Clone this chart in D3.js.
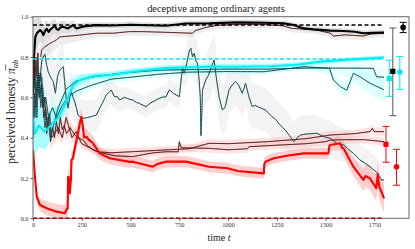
<!DOCTYPE html>
<html>
<head>
<meta charset="utf-8">
<script src="https://cdn.jsdelivr.net/npm/d3@7"></script>
<style>
  body { margin: 0; background: #fff; }
  text { font-family: "Liberation Serif", "DejaVu Serif", serif; }
</style>
</head>
<body>
<svg id="chart" width="415" height="249"></svg>
<script>
// --- data: [time, perceived honesty] ---
const xTicks = [0, 250, 500, 750, 1000, 1250, 1500, 1750];
const yTicks = [0, 0.2, 0.4, 0.6, 0.8, 1.0];

const blackMean = [[0,0.62],[5,0.8],[12,0.9],[20,0.918],[36,0.934],[45,0.925],[53,0.909],[62,0.93],[70,0.94],[80,0.925],[87,0.934],[100,0.945],[112,0.955],[120,0.94],[129,0.934],[142,0.948],[155,0.95],[168,0.945],[180,0.942],[195,0.952],[206,0.958],[215,0.948],[223,0.942],[260,0.952],[325,0.958],[409,0.956],[500,0.96],[682,0.955],[784,0.966],[903,0.967],[1048,0.972],[1184,0.97],[1286,0.967],[1337,0.959],[1388,0.942],[1439,0.937],[1524,0.931],[1592,0.929],[1650,0.925],[1694,0.918],[1740,0.92],[1800,0.921]];
const blackSpread = [[0,0.2],[20,0.08],[50,0.045],[150,0.03],[300,0.015],[1800,0.012]];
const blackThin = [[40,0.8],[44,0.835],[60,0.85],[87,0.868],[104,0.876],[120,0.885],[138,0.9],[200,0.905],[250,0.91],[325,0.918],[409,0.918],[495,0.926],[563,0.926],[700,0.922],[818,0.918],[830,0.93],[880,0.945],[903,0.95],[950,0.958],[1050,0.962],[1184,0.962],[1280,0.955],[1327,0.942],[1450,0.935],[1524,0.918],[1541,0.904],[1600,0.91],[1694,0.904],[1728,0.914],[1800,0.918]];

const cyanMean = [[0,0.5],[10,0.42],[30,0.46],[60,0.43],[100,0.47],[130,0.5],[155,0.546],[180,0.6],[206,0.661],[240,0.686],[306,0.705],[410,0.712],[512,0.728],[682,0.745],[903,0.752],[1048,0.752],[1211,0.754],[1354,0.762],[1473,0.777],[1592,0.785],[1700,0.792],[1800,0.798]];
const cyanSpread = [[0,0.12],[100,0.07],[200,0.03],[300,0.016],[1800,0.01]];
const cyanThinA = [[0,0.55],[8,0.7],[15,0.62],[25,0.75],[35,0.6],[45,0.7],[55,0.55],[65,0.6],[80,0.5],[100,0.55],[120,0.5],[150,0.56],[180,0.6],[220,0.63],[300,0.66],[400,0.69],[500,0.7],[650,0.715],[800,0.725],[1000,0.728],[1184,0.727],[1250,0.735],[1388,0.752],[1520,0.744],[1541,0.686],[1575,0.653],[1609,0.636],[1643,0.719],[1677,0.702],[1728,0.67],[1800,0.637]];
const cyanThinASpread = [[0,0.08],[300,0.02],[1500,0.015],[1600,0.04],[1800,0.06]];
const cyanThinB = [[0,0.45],[10,0.6],[20,0.5],[30,0.72],[40,0.55],[50,0.65],[60,0.45],[75,0.5],[90,0.4],[110,0.48],[130,0.55],[170,0.64],[220,0.68],[300,0.7],[450,0.72],[650,0.735],[850,0.738],[1000,0.74],[1200,0.74],[1400,0.745],[1600,0.745],[1745,0.744],[1762,0.702],[1800,0.7]];

const tealNoisy = [[0,0.4],[5,0.55],[10,0.5],[15,0.65],[20,0.6],[28,0.72],[35,0.68],[45,0.78],[52,0.8],[61,0.813],[70,0.76],[78,0.727],[90,0.7],[104,0.678],[115,0.62],[125,0.7],[135,0.73],[146,0.744],[155,0.752],[162,0.68],[170,0.6],[180,0.546],[188,0.6],[197,0.628],[205,0.6],[214,0.578],[222,0.55],[231,0.512],[245,0.5],[260,0.496],[280,0.5],[300,0.505],[325,0.512],[342,0.546],[355,0.57],[376,0.612],[390,0.625],[401,0.636],[418,0.603],[434,0.603],[444,0.587],[470,0.6],[495,0.59],[512,0.587],[530,0.575],[546,0.57],[565,0.56],[580,0.554],[600,0.57],[631,0.587],[660,0.6],[682,0.603],[699,0.637],[720,0.62],[750,0.603],[767,0.752],[776,0.719],[792,0.785],[801,0.83],[810,0.843],[818,0.8],[827,0.818],[835,0.78],[843,0.77],[852,0.686],[858,0.6],[861,0.41],[865,0.5],[869,0.637],[886,0.686],[900,0.71],[912,0.744],[929,0.785],[937,0.719],[954,0.603],[971,0.537],[985,0.55],[1005,0.637],[1020,0.66],[1039,0.678],[1055,0.66],[1073,0.62],[1090,0.67],[1107,0.603],[1124,0.554],[1140,0.56],[1160,0.55],[1192,0.537],[1210,0.52],[1226,0.504],[1245,0.49],[1260,0.471],[1280,0.45],[1294,0.438],[1315,0.41],[1337,0.38],[1355,0.4],[1371,0.413],[1400,0.418],[1430,0.42],[1456,0.422],[1490,0.405],[1524,0.397],[1558,0.372],[1592,0.364],[1620,0.34],[1643,0.322],[1677,0.289],[1700,0.275],[1728,0.256],[1760,0.23],[1787,0.19],[1800,0.19]];
const tealSpread = [[0,0.16],[200,0.1],[500,0.05],[750,0.06],[800,0.1],[900,0.13],[1300,0.1],[1800,0.07]];

const redMean = [[0,0.34],[3,0.3],[10,0.206],[19,0.107],[36,0.066],[70,0.05],[121,0.033],[163,0.025],[170,0.04],[178,0.05],[180,0.206],[186,0.2],[189,0.125],[195,0.2],[197,0.289],[205,0.3],[215,0.35],[230,0.42],[240,0.47],[248,0.504],[255,0.46],[262,0.4],[274,0.405],[285,0.39],[308,0.372],[342,0.322],[393,0.298],[495,0.28],[512,0.281],[614,0.256],[640,0.27],[682,0.281],[784,0.281],[903,0.256],[997,0.248],[1050,0.235],[1184,0.223],[1186,0.27],[1192,0.281],[1235,0.298],[1300,0.31],[1388,0.322],[1515,0.322],[1520,0.36],[1524,0.364],[1575,0.372],[1585,0.35],[1592,0.347],[1643,0.256],[1694,0.19],[1705,0.21],[1728,0.198],[1760,0.149],[1768,0.22],[1775,0.16],[1800,0.099]];
const redSpread = [[0,0.03],[150,0.04],[250,0.045],[350,0.03],[1500,0.025],[1600,0.04],[1800,0.07]];
const redThinA = [[0,0.6],[5,0.75],[10,0.65],[15,0.8],[20,0.7],[25,0.82],[30,0.65],[40,0.72],[50,0.55],[60,0.6],[70,0.42],[80,0.5],[90,0.38],[100,0.45],[110,0.4],[120,0.48],[130,0.42],[140,0.5],[150,0.44],[160,0.46],[172,0.42],[190,0.45],[210,0.42],[230,0.4],[257,0.388],[280,0.36],[308,0.339],[350,0.325],[420,0.31],[512,0.306],[560,0.315],[620,0.325],[682,0.33],[745,0.33],[750,0.38],[760,0.35],[903,0.347],[1000,0.34],[1100,0.345],[1107,0.355],[1200,0.36],[1300,0.365],[1400,0.37],[1500,0.38],[1524,0.388],[1600,0.39],[1700,0.39],[1800,0.38]];
const redThinB = [[0,0.5],[8,0.62],[16,0.55],[24,0.7],[32,0.6],[45,0.66],[55,0.5],[65,0.55],[75,0.45],[85,0.52],[95,0.4],[110,0.42],[130,0.45],[150,0.4],[170,0.5],[185,0.45],[200,0.4],[220,0.43],[250,0.37],[290,0.35],[330,0.33],[400,0.325],[500,0.33],[600,0.335],[700,0.34],[800,0.345],[903,0.372],[1000,0.37],[1200,0.38],[1400,0.395],[1524,0.413],[1650,0.42],[1728,0.43],[1740,0.446],[1750,0.43],[1800,0.43]];
const redThinSpread = [[0,0.06],[300,0.02],[1800,0.02]];

// reference levels (dashed), end time
const refLevels = [["#000", 0.959], ["#00e8f0", 0.79], ["#b00000", 0.0]];
const refEnd = 1800;

// summary markers at the right: [time, value, low, high, colour, bar colour, shape]
const summaryT = [1810, 1827, 1845, 1864, 1881, 1898];
const summaryV = [0.367, 0.693, 0.729, 0.256, 0.726, 0.947];
const summaryLo = [0.278, 0.605, 0.509, 0.164, 0.64, 0.921];
const summaryHi = [0.456, 0.784, 0.944, 0.342, 0.802, 0.972];
const summaryCol = ["#ff0000", "#00e8f0", "#000", "#ff0000", "#00e8f0", "#000"];
const summaryBar = ["#ff0000", "#00e8f0", "#555", "#ff0000", "#00e8f0", "#000"];
const summaryShape = ["square", "square", "square", "circle", "circle", "circle"];

// --- layout ---
const W = 415, H = 249;
const m = { l: 33, r: 6, t: 16.7, b: 30.7 };
const x = d3.scaleLinear().domain([0, 1928]).range([m.l, W - m.r]);
const y = d3.scaleLinear().domain([0, 1]).range([H - m.b, m.t]);

const svg = d3.select("#chart");
svg.append("defs").append("clipPath").attr("id", "plot")
  .append("rect").attr("x", m.l).attr("y", m.t)
  .attr("width", W - m.l - m.r).attr("height", H - m.t - m.b);

const plot = svg.append("g").attr("clip-path", "url(#plot)");

const line = d3.line().x(d => x(d[0])).y(d => y(d[1]));

function band(series, spread, fill, op) {
  const hw = d3.scaleLinear().domain(spread.map(d => d[0])).range(spread.map(d => d[1])).clamp(true);
  const area = d3.area().x(d => x(d[0]))
    .y0(d => y(Math.max(0, d[1] - hw(d[0]))))
    .y1(d => y(Math.min(1, d[1] + hw(d[0]))));
  plot.append("path").attr("d", area(series)).attr("fill", fill).attr("fill-opacity", op);
}

function thin(series, col) {
  plot.append("path").attr("d", line(series)).attr("fill", "none")
    .attr("stroke", "#151515").attr("stroke-width", 0.9);
  plot.append("path").attr("d", line(series)).attr("fill", "none")
    .attr("stroke", col).attr("stroke-width", 0.8).attr("stroke-dasharray", "0.8,1.6");
}

function thick(series, col, w) {
  plot.append("path").attr("d", line(series)).attr("fill", "none")
    .attr("stroke", col).attr("stroke-width", w).attr("stroke-linejoin", "round");
}

// bands
band(tealNoisy, tealSpread, "#e8e8e8", 0.5);
band(blackMean, blackSpread, "#c8c8c8", 0.6);
band(blackThin, redThinSpread, "#dcdcdc", 0.5);
band(redThinA, redThinSpread, "#ffc0c0", 0.45);
band(redThinB, redThinSpread, "#ffc0c0", 0.45);
band(cyanThinA, cyanThinASpread, "#b8ffff", 0.45);
band(cyanThinB, cyanThinASpread, "#b8ffff", 0.3);
band(redMean, redSpread, "#ffa8a8", 0.55);
band(cyanMean, cyanSpread, "#70ffff", 0.6);

// thin runs
thin(redThinA, "#ff2020");
thin(redThinB, "#ff2020");
thin(cyanThinA, "#00f0ff");
thin(cyanThinB, "#00f0ff");
thin(blackThin, "#ff2020");
thin(tealNoisy, "#00d8e0");

// means
thick(redMean, "#ff0000", 2.1);
thick(cyanMean, "#00eef5", 2.1);
thick(blackMean, "#000", 2.1);

// frame
svg.append("rect").attr("x", m.l).attr("y", m.t)
  .attr("width", W - m.l - m.r).attr("height", H - m.t - m.b)
  .attr("fill", "none").attr("stroke", "#666").attr("stroke-width", 1);

// reference dashes (drawn over the frame so the zero level shows)
refLevels.forEach(([c, v]) => {
  svg.append("line").attr("x1", x(0)).attr("x2", x(refEnd))
    .attr("y1", y(v)).attr("y2", y(v))
    .attr("stroke", c).attr("stroke-width", 1.4).attr("stroke-dasharray", "4,2.5");
});

// summary error bars
const sm = svg.append("g");
summaryT.forEach((t, i) => {
  const cx = x(t), c = summaryBar[i];
  sm.append("line").attr("x1", cx).attr("x2", cx).attr("y1", y(summaryLo[i])).attr("y2", y(summaryHi[i]))
    .attr("stroke", c).attr("stroke-width", 1);
  [summaryLo[i], summaryHi[i]].forEach(v => {
    sm.append("line").attr("x1", cx - 3.5).attr("x2", cx + 3.5).attr("y1", y(v)).attr("y2", y(v))
      .attr("stroke", c).attr("stroke-width", 1);
  });
  if (summaryShape[i] === "square") {
    sm.append("rect").attr("x", cx - 2.6).attr("y", y(summaryV[i]) - 2.6)
      .attr("width", 5.2).attr("height", 5.2).attr("fill", summaryCol[i]);
  } else {
    sm.append("circle").attr("cx", cx).attr("cy", y(summaryV[i])).attr("r", 2.8).attr("fill", summaryCol[i]);
  }
});

// axes
const gx = svg.append("g").attr("transform", `translate(0,${H - m.b})`)
  .call(d3.axisBottom(x).tickValues(xTicks).tickSize(2.5).tickPadding(2).tickFormat(d3.format("d")));
const gy = svg.append("g").attr("transform", `translate(${m.l},0)`)
  .call(d3.axisLeft(y).tickValues(yTicks).tickSize(2.5).tickPadding(2).tickFormat(d3.format(".1f")));
[gx, gy].forEach(g => {
  g.select(".domain").remove();
  g.selectAll(".tick line").attr("stroke", "#555");
  g.selectAll(".tick text").attr("fill", "#333")
    .style("font-family", '"Liberation Serif", serif').style("font-size", "6.3px");
});

// titles
svg.append("text").attr("x", 216).attr("y", 12).attr("text-anchor", "middle")
  .attr("fill", "#222").style("font-size", "10.4px").text("deceptive among ordinary agents");

svg.append("text").attr("x", 219).attr("y", 241).attr("text-anchor", "middle")
  .attr("fill", "#222").style("font-size", "10px")
  .call(t => {
    t.append("tspan").text("time ");
    t.append("tspan").style("font-style", "italic").text("t");
  });

svg.append("text").attr("transform", "translate(15,112) rotate(-90)").attr("text-anchor", "middle")
  .attr("fill", "#222").style("font-size", "12px")
  .call(t => {
    t.append("tspan").text("perceived honesty ");
    t.append("tspan").style("font-style", "italic").text("\u03c0\u0305");
    t.append("tspan").attr("dy", 2.5).style("font-size", "8px").style("font-style", "italic").text("ab");
  });
</script>
</body>
</html>
